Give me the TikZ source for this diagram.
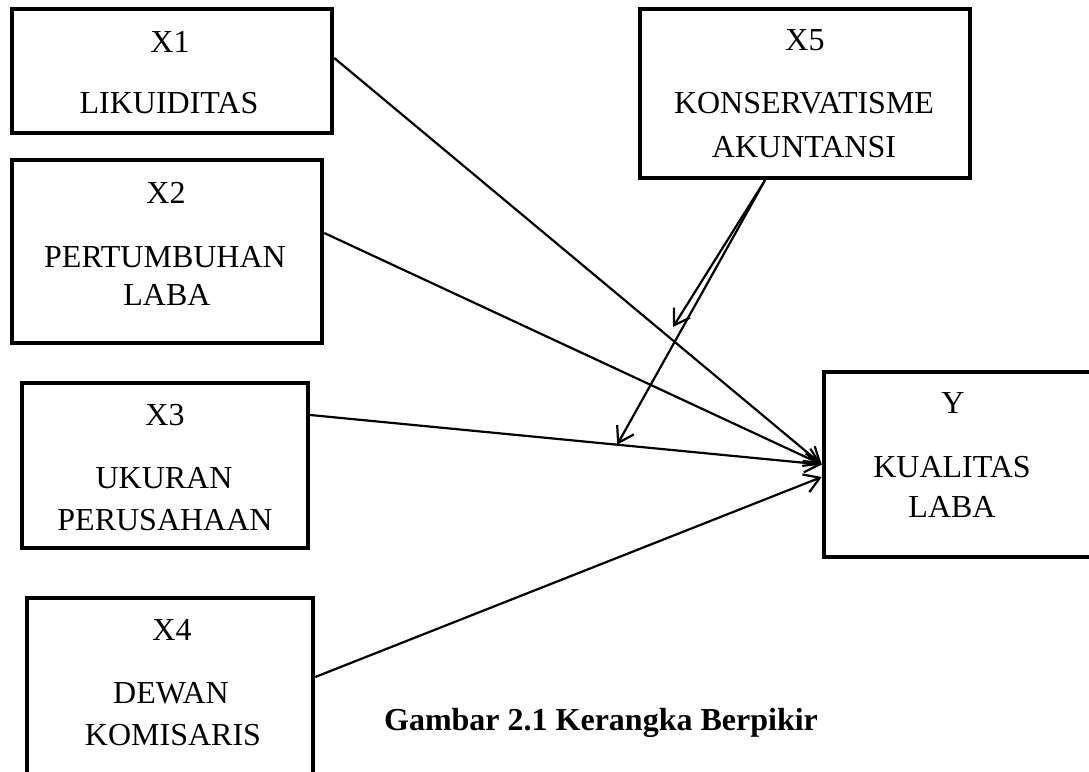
\documentclass[tikz,border=0pt]{standalone}
\usepackage{fontspec}
\setmainfont{Liberation Serif}
\usetikzlibrary{arrows.meta}
\begin{document}
\begin{tikzpicture}[x=1pt,y=-1pt,
  box/.style={draw, line width=4.5pt, rectangle, inner sep=0pt},
  lbl/.style={font=\fontsize{32}{38}\selectfont, anchor=base, inner sep=0pt},
  captext/.style={font=\fontsize{32}{38}\selectfont\bfseries, anchor=base, inner sep=0pt},
  conn/.style={line width=2.2pt, -{Straight Barb[length=15pt,width=19pt]}}]
\useasboundingbox (0,0) rectangle (1089,771);
% boxes
\node[box, minimum width=320pt, minimum height=124pt] (x1) at (172,71) {};
\node[box, minimum width=310pt, minimum height=183pt] (x2) at (167,251.5) {};
\node[box, minimum width=286pt, minimum height=165pt] (x3) at (165,465.5) {};
\node[box, minimum width=286pt, minimum height=202pt] (x4) at (170,699) {};
\node[box, minimum width=330pt, minimum height=169pt] (x5) at (805,93.5) {};
\node[box, minimum width=272pt, minimum height=185pt] (y) at (960,464.5) {};
% texts
\node[lbl] (t1a) at (170,52) {X1};
\node[lbl] (t1b) at (169,113) {LIKUIDITAS};
\node[lbl] (t2a) at (166,203) {X2};
\node[lbl] (t2b) at (165,267) {PERTUMBUHAN};
\node[lbl] (t2c) at (167,305) {LABA};
\node[lbl] (t3a) at (165,425) {X3};
\node[lbl] (t3b) at (164,488) {UKURAN};
\node[lbl] (t3c) at (165,530) {PERUSAHAAN};
\node[lbl] (t4a) at (172,640) {X4};
\node[lbl] (t4b) at (171,703) {DEWAN};
\node[lbl] (t4c) at (173,745) {KOMISARIS};
\node[lbl] (t5a) at (805,50) {X5};
\node[lbl] (t5b) at (804,113) {KONSERVATISME};
\node[lbl] (t5c) at (804,157) {AKUNTANSI};
\node[lbl] (tya) at (953,413) {Y};
\node[lbl] (tyb) at (952,477) {KUALITAS};
\node[lbl] (tyc) at (952,517) {LABA};
\node[captext] (caption) at (601,730) {Gambar 2.1 Kerangka Berpikir};
% connectors
\draw[conn] ([yshift=13pt]x1.east) -- (y.west);
\draw[conn] ([yshift=18.5pt]x2.east) -- (y.west);
\draw[conn] ([yshift=50.5pt]x3.east) -- (y.west) coordinate[pos=0.6] (m2);
\draw[conn] ([yshift=22pt]x4.east) -- ([yshift=-12.5pt]y.west);
\coordinate (m1) at (673,327);
\draw[conn] ([xshift=-40pt]x5.south) -- (m1);
\draw[conn] ([xshift=-40pt]x5.south) -- (m2);
\end{tikzpicture}
\end{document}
